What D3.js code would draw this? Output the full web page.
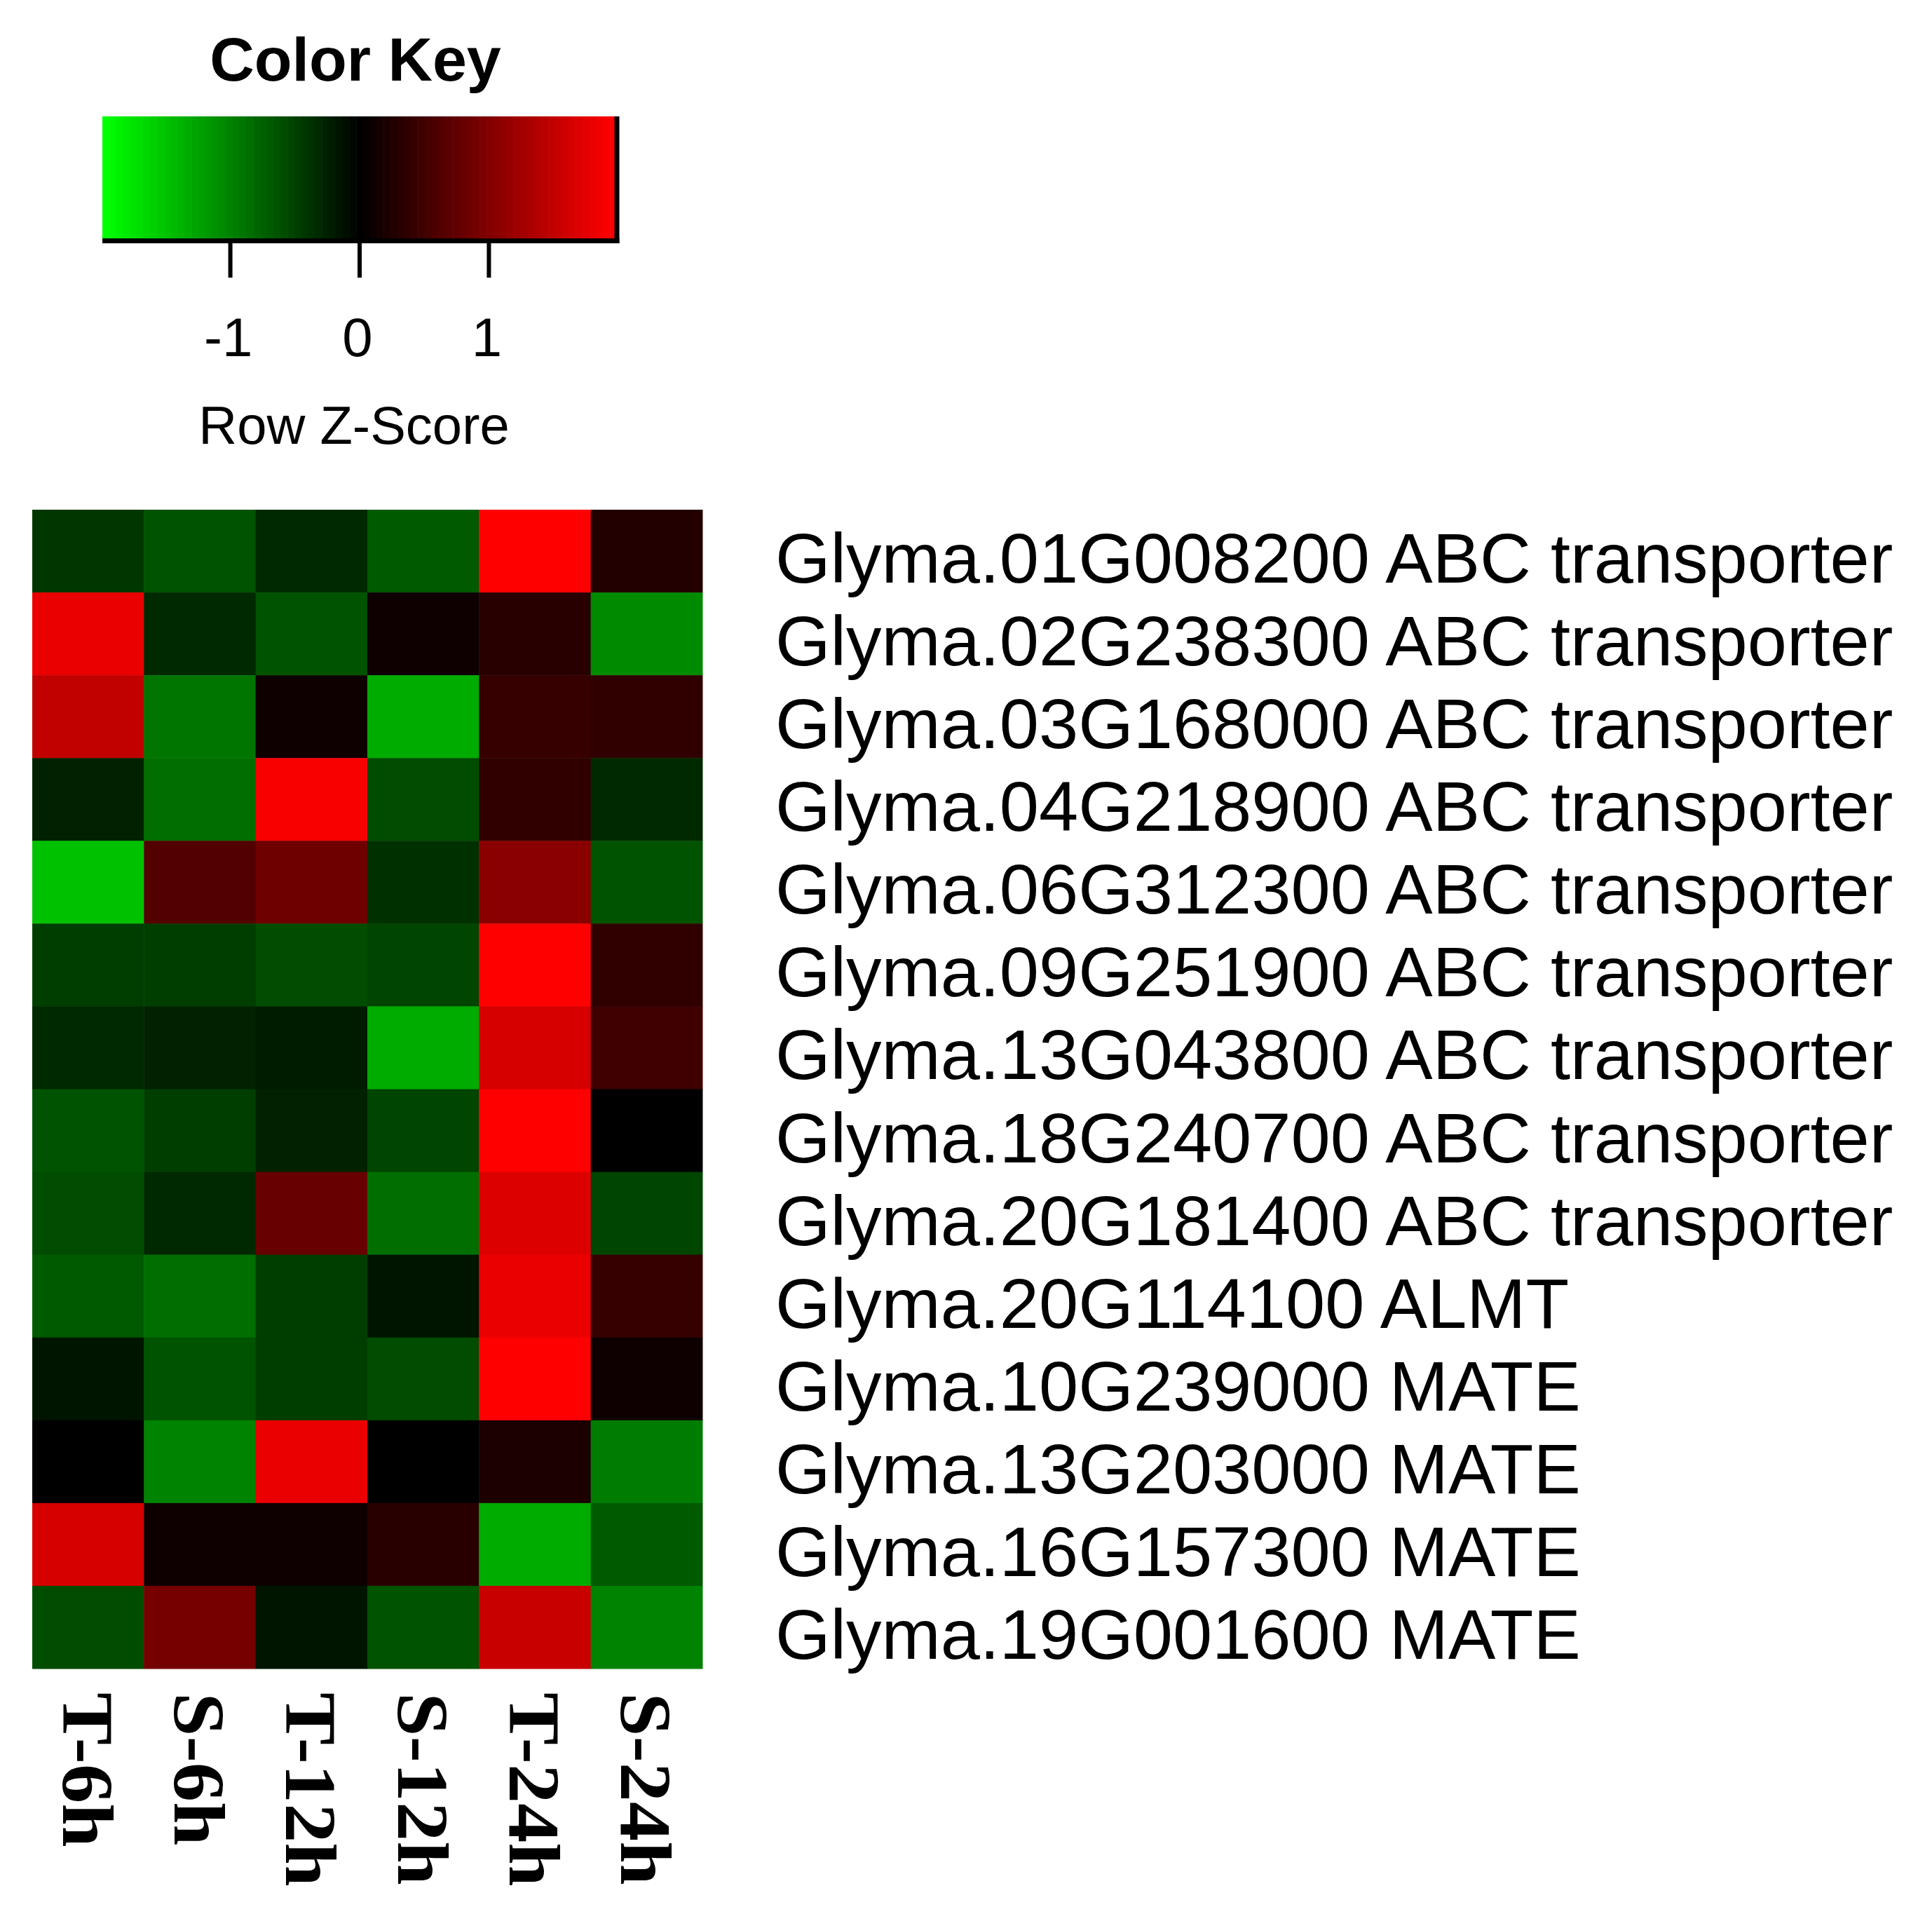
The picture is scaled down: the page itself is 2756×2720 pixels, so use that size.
<!DOCTYPE html>
<html>
<head>
<meta charset="utf-8">
<script src="https://cdn.jsdelivr.net/npm/d3@7"></script>
<style>
  html, body { margin: 0; padding: 0; background: #fff; }
  .sans { font-family: "Liberation Sans", Arial, sans-serif; }
  .serif { font-family: "Liberation Serif", "Times New Roman", serif; }
</style>
</head>
<body>
<div id="chart"></div>
<script>
// heatmap of row z-scores (greenred palette, like gplots heatmap.2)
const genes = [
  "Glyma.01G008200 ABC transporter",
  "Glyma.02G238300 ABC transporter",
  "Glyma.03G168000 ABC transporter",
  "Glyma.04G218900 ABC transporter",
  "Glyma.06G312300 ABC transporter",
  "Glyma.09G251900 ABC transporter",
  "Glyma.13G043800 ABC transporter",
  "Glyma.18G240700 ABC transporter",
  "Glyma.20G181400 ABC transporter",
  "Glyma.20G114100 ALMT",
  "Glyma.10G239000 MATE",
  "Glyma.13G203000 MATE",
  "Glyma.16G157300 MATE",
  "Glyma.19G001600 MATE"
];
const samples = ["T-6h", "S-6h", "T-12h", "S-12h", "T-24h", "S-24h"];

// one array per gene, values in sample order
const zscores = [
  [-0.45, -0.62, -0.31, -0.70,  1.99,  0.27],
  [ 1.80, -0.31, -0.62,  0.08,  0.31, -1.04],
  [ 1.48, -0.91,  0.12, -1.33,  0.41,  0.37],
  [-0.27, -0.86,  1.91, -0.59,  0.35, -0.33],
  [-1.46,  0.62,  0.83, -0.35,  1.08, -0.62],
  [-0.50, -0.50, -0.60, -0.52,  1.99,  0.37],
  [-0.33, -0.27, -0.19, -1.33,  1.64,  0.50],
  [-0.64, -0.47, -0.27, -0.52,  1.99,  0.00],
  [-0.60, -0.33,  0.78, -0.83,  1.72, -0.52],
  [-0.69, -0.83, -0.47, -0.14,  1.83,  0.44],
  [-0.17, -0.66, -0.47, -0.56,  1.99,  0.09],
  [-0.01, -0.99,  1.78,  0.00,  0.23, -0.95],
  [ 1.64,  0.09,  0.09,  0.33, -1.33, -0.70],
  [-0.59,  0.91, -0.16, -0.62,  1.56, -1.03]
];
const keyTicks = [-1, 0, 1];
const zRange = [-1.99, 1.99];

const W = 2756, H = 2720;
const svg = d3.select("#chart").append("svg")
    .attr("width", W)
    .attr("height", H);
svg.append("rect").attr("width", W).attr("height", H).attr("fill", "#fff");

// greenred(75): green -> black -> red
const nCol = 75;
const half = (nCol - 1) / 2;
const palette = d3.range(nCol).map(i => i <= half
    ? d3.rgb(0, Math.round(255 * (half - i) / half), 0).formatHex()
    : d3.rgb(Math.round(255 * (i - half) / half), 0, 0).formatHex());
const color = d3.scaleQuantize().domain(zRange).range(palette);

// ---- heatmap
const hm = {left: 46, right: 1002, top: 727, bottom: 2380};
const x = d3.scaleBand().domain(samples).range([hm.left, hm.right]);
const y = d3.scaleBand().domain(genes).range([hm.top, hm.bottom]);

const cells = [];
zscores.forEach((row, i) => row.forEach((v, j) => cells.push({gene: genes[i], sample: samples[j], v: v})));

svg.append("g").selectAll("rect")
    .data(cells)
  .enter().append("rect")
    .attr("x", d => x(d.sample))
    .attr("y", d => y(d.gene))
    .attr("width", x.bandwidth() + 0.5)
    .attr("height", y.bandwidth() + 0.5)
    .attr("fill", d => color(d.v));

// row labels
svg.append("g").selectAll("text")
    .data(genes)
  .enter().append("text")
    .attr("class", "sans")
    .attr("x", 1106)
    .attr("y", d => y(d) + y.bandwidth() / 2 + 45)
    .attr("font-size", 101)
    .attr("fill", "#000")
    .text(d => d);

// column labels, rotated (a bit stretched along the text, as in the original)
svg.append("g").selectAll("text")
    .data(samples)
  .enter().append("text")
    .attr("class", "serif")
    .attr("font-size", 104)
    .attr("font-weight", "bold")
    .attr("fill", "#000")
    .attr("transform", d => "translate(" + (x(d) + x.bandwidth() / 2 - 36) + "," + (hm.bottom + 34) + ") rotate(90) scale(1.08,1)")
    .text(d => d);

// ---- color key
const key = {left: 146, right: 880, top: 166, bottom: 340};
const kx = d3.scaleLinear().domain(zRange).range([key.left, key.right]);
const step = (zRange[1] - zRange[0]) / nCol;

svg.append("g").selectAll("rect")
    .data(palette)
  .enter().append("rect")
    .attr("x", (d, i) => kx(zRange[0] + i * step))
    .attr("y", key.top)
    .attr("width", (key.right - key.left) / nCol + 0.6)
    .attr("height", key.bottom - key.top)
    .attr("fill", d => d);

// frame lines (bottom + right) and ticks
svg.append("line")
    .attr("x1", key.left).attr("x2", key.right + 3.5)
    .attr("y1", key.bottom + 3.5).attr("y2", key.bottom + 3.5)
    .attr("stroke", "#000").attr("stroke-width", 7);
svg.append("line")
    .attr("x1", key.right).attr("x2", key.right)
    .attr("y1", key.top).attr("y2", key.bottom + 7)
    .attr("stroke", "#000").attr("stroke-width", 7);

const kt = svg.append("g").selectAll("g")
    .data(keyTicks)
  .enter().append("g")
    .attr("transform", d => "translate(" + kx(d) + ",0)");
kt.append("line")
    .attr("y1", key.bottom + 7).attr("y2", 396)
    .attr("stroke", "#000").attr("stroke-width", 6);
kt.append("text")
    .attr("class", "sans")
    .attr("x", -3)
    .attr("y", 508)
    .attr("text-anchor", "middle")
    .attr("font-size", 78)
    .text(d => String(d));

svg.append("text")
    .attr("class", "sans")
    .attr("x", 507).attr("y", 115)
    .attr("text-anchor", "middle")
    .attr("font-size", 88)
    .attr("font-weight", "bold")
    .text("Color Key");

svg.append("text")
    .attr("class", "sans")
    .attr("x", 505).attr("y", 633)
    .attr("text-anchor", "middle")
    .attr("font-size", 76)
    .text("Row Z-Score");
</script>
</body>
</html>
